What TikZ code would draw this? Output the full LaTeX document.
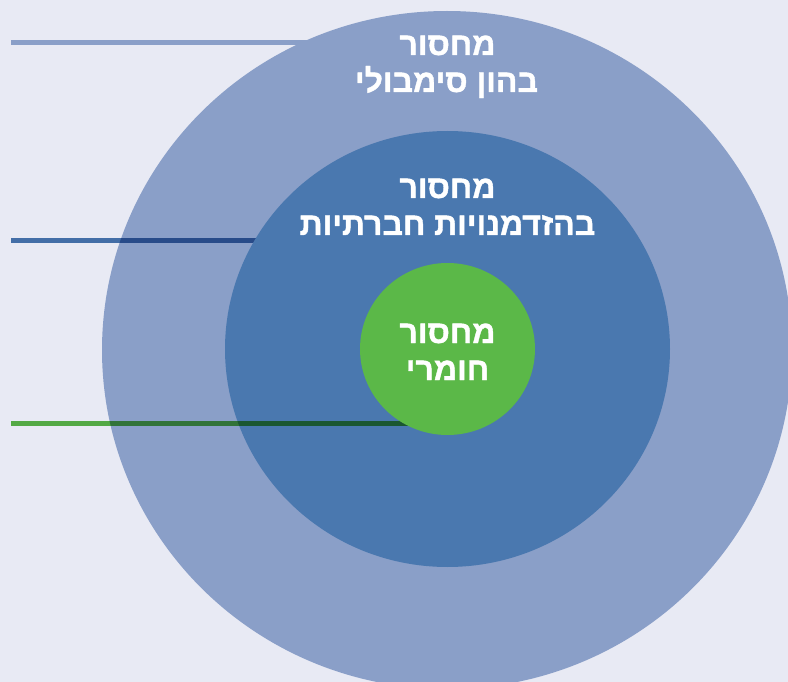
\documentclass[tikz,border=0pt]{standalone}
\usepackage{fontspec}
\newfontfamily\hebfont[Script=Hebrew,FakeBold=1.2]{Liberation Sans Bold}
\TeXXeTstate=1
\definecolor{bgc}{RGB}{232,234,244}
\definecolor{bigc}{RGB}{138,159,200}
\definecolor{midc}{RGB}{74,120,175}
\definecolor{grnc}{RGB}{91,184,72}
\definecolor{lineone}{RGB}{138,159,200}
\definecolor{linetwo}{RGB}{67,110,167}
\definecolor{linetwob}{RGB}{40,75,137}
\definecolor{linethree}{RGB}{83,169,69}
\definecolor{linethreeb}{RGB}{49,115,56}
\definecolor{linethreem}{RGB}{26,87,49}
\begin{document}
\begin{tikzpicture}[x=1pt,y=-1pt,
  lbl/.style={text=white,font=\hebfont\fontsize{32}{37}\selectfont,inner sep=0pt,anchor=base},
  bar/.style={line width=5pt,line cap=butt}]
\fill[bgc] (0,0) rectangle (788,682);
\useasboundingbox (0,0) rectangle (788,682);
% line 1
\coordinate (s1) at (11,43); \coordinate (e1) at (330,43);
\draw[bar,lineone] (s1) -- (e1);
% big circle
\fill[bigc] (447,350) ellipse [x radius=345pt, y radius=339pt];
% line 2
\coordinate (s2) at (11,241); \coordinate (e2) at (270,241);
\draw[bar,linetwo] (s2) -- (e2);
\begin{scope}
  \clip (447,350) ellipse [x radius=345pt, y radius=339pt];
  \draw[bar,linetwob] (s2) -- (e2);
\end{scope}
% middle circle
\fill[midc] (447.5,349) ellipse [x radius=222.5pt, y radius=218pt];
% line 3
\coordinate (s3) at (11,423); \coordinate (e3) at (420,423);
\draw[bar,linethree] (s3) -- (e3);
\begin{scope}
  \clip (447,350) ellipse [x radius=345pt, y radius=339pt];
  \draw[bar,linethreeb] (s3) -- (e3);
\end{scope}
\begin{scope}
  \clip (447.5,349) ellipse [x radius=222.5pt, y radius=218pt];
  \draw[bar,linethreem] (s3) -- (e3);
\end{scope}
% green circle
\fill[grnc] (447.5,349) ellipse [x radius=87.5pt, y radius=86pt];
% texts
\node[lbl] (t1a) at (447.5,55) {\beginR מחסור\endR};
\node[lbl] (t1b) at (446.5,92) {\beginR בהון סימבולי\endR};
\node[lbl] (t2a) at (447.5,198) {\beginR מחסור\endR};
\node[lbl] (t2b) at (447.5,235) {\beginR בהזדמנויות חברתיות\endR};
\node[lbl] (t3a) at (447.5,343) {\beginR מחסור\endR};
\node[lbl] (t3b) at (447.5,380) {\beginR חומרי\endR};
\end{tikzpicture}
\end{document}
